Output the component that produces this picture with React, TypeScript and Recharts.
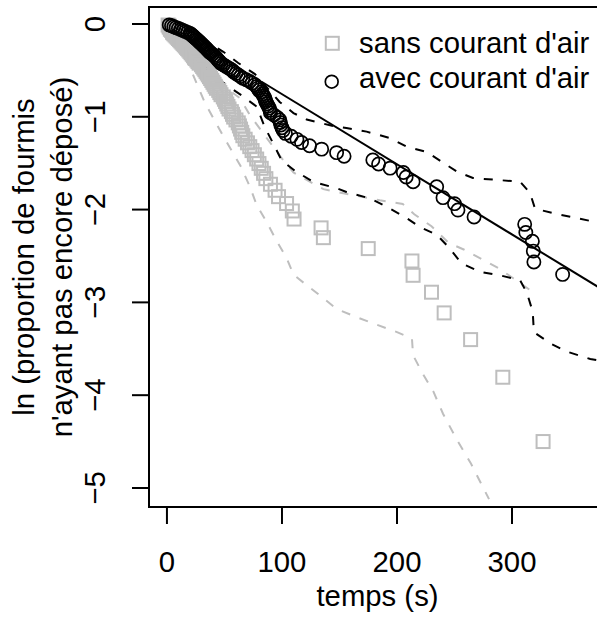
import React from 'react';
import { ComposedChart, Scatter, Line, XAxis, YAxis, ReferenceArea } from 'recharts';

const FONT = '"Liberation Sans", Arial, Helvetica, sans-serif';
const FS = 29.3;
const GREY = '#bebebe';

// x-axis ticks / y-axis ticks
const xTicks = [0, 100, 200, 300];
const yTicks = [-5, -4, -3, -2, -1, 0];

// "sans courant d'air" : time (s) and ln(proportion not yet deposited)
const sansT = [
  1, 2, 2, 3, 3, 4, 5, 5, 6, 7,
  8, 9, 10, 11, 12, 13, 14, 15, 16, 17,
  18, 19, 20, 21, 22, 23, 24, 25, 26, 27,
  28, 30, 31, 32, 33, 34, 35, 36, 37, 38,
  39, 40, 41, 42, 43, 45, 46, 47, 49, 50,
  51, 52, 53, 54, 56, 57, 58, 60, 62, 63,
  64, 65, 66, 68, 70, 72, 74, 76, 78, 80,
  82, 84, 86, 90, 94, 97, 104, 109, 110.5, 134,
  136, 175, 213, 214, 230, 241, 264, 292, 327,
];
const sansLn = [
  -0.0112, -0.0225, -0.0339, -0.0455, -0.0572, -0.069, -0.081, -0.0931, -0.1054, -0.1178,
  -0.1304, -0.1431, -0.156, -0.1691, -0.1823, -0.1957, -0.2094, -0.2231, -0.2371, -0.2513,
  -0.2657, -0.2803, -0.2951, -0.3102, -0.3254, -0.3409, -0.3567, -0.3727, -0.3889, -0.4055,
  -0.4223, -0.4394, -0.4568, -0.4745, -0.4925, -0.5108, -0.5295, -0.5486, -0.568, -0.5878,
  -0.608, -0.6286, -0.6497, -0.6712, -0.6931, -0.7156, -0.7386, -0.7621, -0.7862, -0.8109,
  -0.8362, -0.8622, -0.8889, -0.9163, -0.9445, -0.9734, -1.0033, -1.0341, -1.0658, -1.0986,
  -1.1325, -1.1676, -1.204, -1.2417, -1.2809, -1.3218, -1.3643, -1.4088, -1.4553, -1.5041,
  -1.5554, -1.6094, -1.6666, -1.7272, -1.7918, -1.8608, -1.9349, -2.0149, -2.1019, -2.1972,
  -2.3026, -2.4204, -2.5539, -2.7081, -2.8904, -3.1135, -3.4012, -3.8067, -4.4998,
];

// "avec courant d'air"
const avecT = [
  2, 4, 6, 8, 10, 12, 14, 16, 18, 20,
  21, 22, 23, 24, 25, 26, 27, 28, 29, 30,
  31, 32, 33, 34, 35, 36, 37, 38, 39.5, 41,
  42, 43, 44, 45, 46, 47, 49, 51, 53, 55,
  57, 58, 60, 62, 64, 66, 69, 72, 74, 76.5,
  78, 79, 80, 82, 83, 84, 85, 85.5, 86, 87,
  88, 89, 89.6, 90, 93, 96, 98, 98.5, 99, 100,
  101, 103, 108, 113, 117, 124, 134.5, 147.5, 154, 179,
  184, 194, 205.5, 208, 214, 234.5, 240, 250, 253, 267,
  311, 312, 317.7, 318.5, 319, 344,
];
const avecLn = [
  -0.0097, -0.0194, -0.0293, -0.0392, -0.0493, -0.0594, -0.0697, -0.08, -0.0905, -0.1011,
  -0.1118, -0.1226, -0.1335, -0.1446, -0.1558, -0.1671, -0.1785, -0.19, -0.2017, -0.2136,
  -0.2256, -0.2377, -0.2499, -0.2624, -0.2749, -0.2877, -0.3006, -0.3137, -0.3269, -0.3403,
  -0.3539, -0.3677, -0.3817, -0.3959, -0.4103, -0.4249, -0.4397, -0.4547, -0.47, -0.4855,
  -0.5013, -0.5173, -0.5335, -0.5501, -0.5669, -0.584, -0.6013, -0.619, -0.6371, -0.6554,
  -0.6741, -0.6931, -0.7126, -0.7324, -0.7526, -0.7732, -0.7942, -0.8158, -0.8377, -0.8602,
  -0.8832, -0.9067, -0.9308, -0.9555, -0.9808, -1.0068, -1.0335, -1.0609, -1.089, -1.118,
  -1.1479, -1.1787, -1.2104, -1.2432, -1.2771, -1.3122, -1.3486, -1.3863, -1.4255, -1.4663,
  -1.5088, -1.5533, -1.5998, -1.6486, -1.6999, -1.7539, -1.8717, -1.9362, -2.0052, -2.0793,
  -2.1594, -2.2464, -2.3418, -2.4472, -2.5649, -2.6985,
];

// fitted line (avec)
const fitT = [82, 382];
const fitLn = [-0.62, -2.888];

// envelopes (avec, black dashed)
const avecUpT = [0, 20, 35, 49, 62, 76.5, 88, 98, 110, 121.5, 144.5, 156, 173.6, 194, 208, 226, 237, 252, 266, 307, 315.6, 320, 336, 371, 382];
const avecUpLn = [0, -0.07, -0.19, -0.3, -0.42, -0.54, -0.7, -0.84, -0.96, -1.03, -1.1, -1.12, -1.16, -1.23, -1.32, -1.38, -1.47, -1.59, -1.66, -1.7, -1.82, -1.99, -2.04, -2.13, -2.15];
const avecLoT = [0, 15, 30, 40, 52, 65, 78, 85, 92.5, 99.7, 111, 127, 147.5, 156, 176.5, 191, 207, 220, 234.5, 246, 256, 272, 290, 307, 313, 318, 319, 333, 347.5, 368, 382];
const avecLoLn = [0, -0.15, -0.42, -0.55, -0.66, -0.77, -0.89, -1.11, -1.29, -1.47, -1.58, -1.7, -1.77, -1.81, -1.88, -1.97, -2.08, -2.19, -2.27, -2.42, -2.58, -2.67, -2.71, -2.76, -2.9, -3.1, -3.32, -3.44, -3.53, -3.61, -3.64];

// envelopes (sans, grey dashed)
const sansUpT = [0, 10, 20, 37, 46, 63.5, 72, 85, 100, 110, 136, 160, 185, 205, 215, 230, 245, 258, 270, 288, 301, 316, 322];
const sansUpLn = [0, -0.12, -0.25, -0.52, -0.64, -0.8, -0.98, -1.2, -1.45, -1.6, -1.78, -1.84, -1.9, -1.94, -2.05, -2.18, -2.36, -2.43, -2.51, -2.63, -2.74, -2.87, -2.92];
const sansLoT = [0, 10, 20, 33, 49, 64, 72, 78, 87, 95, 104, 110, 121, 134.5, 147.5, 163, 180, 200, 213, 214, 222, 231.6, 240, 252, 264, 280];
const sansLoLn = [0, -0.22, -0.47, -0.85, -1.21, -1.53, -1.75, -1.95, -2.14, -2.33, -2.52, -2.7, -2.81, -2.94, -3.07, -3.15, -3.23, -3.32, -3.39, -3.57, -3.76, -3.96, -4.2, -4.48, -4.73, -5.12];

const zip = (xs: number[], ys: number[]) => xs.map((x, i) => ({ x, y: ys[i] }));

const X_DOMAIN: [number, number] = [-15.6, 381.7];
const Y_DOMAIN: [number, number] = [-5.205, 0.183];

const SquareShape = (props: any) => {
  const { cx, cy } = props;
  if (cx == null || cy == null) return null;
  return <rect x={cx - 6.5} y={cy - 6.5} width={13} height={13} fill="none" stroke={GREY} strokeWidth={2} />;
};
const CircleShape = (props: any) => {
  const { cx, cy } = props;
  if (cx == null || cy == null) return null;
  return <circle cx={cx} cy={cy} r={6.6} fill="none" stroke="#000" strokeWidth={1.7} />;
};

const fmt = (v: number) => (v < 0 ? '\u2212' + Math.abs(v) : String(v));

const YTick = (props: any) => {
  const { y, payload } = props;
  const bx = 105;
  return (
    <text x={bx} y={y} transform={`rotate(-90, ${bx}, ${y})`} textAnchor="middle" fontSize={FS} fontFamily={FONT} fill="#000">
      {fmt(payload.value)}
    </text>
  );
};

const YTitle = () => {
  const cy = 257;
  return (
    <g>
      <text x={34} y={cy} transform={`rotate(-90, 34, ${cy})`} textAnchor="middle" fontSize={FS} fontFamily={FONT} fill="#000">
        ln (proportion de fourmis
      </text>
      <text x={72} y={cy} transform={`rotate(-90, 72, ${cy})`} textAnchor="middle" fontSize={FS} fontFamily={FONT} fill="#000">
        n'ayant pas encore déposé)
      </text>
    </g>
  );
};

export default function App() {
  return (
    <div style={{ position: 'absolute', left: 0, top: 0, width: 597, height: 617, overflow: 'hidden', background: '#fff' }}>
      <ComposedChart width={620} height={617} margin={{ top: 7, right: 14, bottom: 0, left: 0 }}>
        <XAxis
          type="number"
          dataKey="x"
          domain={X_DOMAIN}
          allowDataOverflow
          ticks={xTicks}
          tickSize={17}
          tickMargin={27}
          axisLine={false}
          tickLine={{ stroke: '#000', strokeWidth: 2 }}
          tick={{ fontSize: FS, fill: '#000', fontFamily: FONT }}
          height={110}
          label={{ value: 'temps (s)', position: 'insideBottom', offset: 11, fontSize: FS, fill: '#000', fontFamily: FONT }}
        />
        <YAxis
          type="number"
          dataKey="y"
          domain={Y_DOMAIN}
          allowDataOverflow
          ticks={yTicks}
          tickSize={17}
          axisLine={false}
          tickLine={{ stroke: '#000', strokeWidth: 2 }}
          tick={<YTick />}
          width={149}
          label={{ content: () => <YTitle /> }}
        />
        <ReferenceArea x1={X_DOMAIN[0]} x2={X_DOMAIN[1]} y1={Y_DOMAIN[0]} y2={Y_DOMAIN[1]} fill="none" fillOpacity={0} stroke="#000" strokeWidth={2} strokeOpacity={1} ifOverflow="visible" />
        <Scatter data={zip(sansT, sansLn)} shape={SquareShape} isAnimationActive={false} />
        <Line data={zip(sansUpT, sansUpLn)} dataKey="y" type="linear" stroke={GREY} strokeWidth={2} strokeDasharray="9 10" dot={false} activeDot={false} isAnimationActive={false} />
        <Line data={zip(sansLoT, sansLoLn)} dataKey="y" type="linear" stroke={GREY} strokeWidth={2} strokeDasharray="9 10" dot={false} activeDot={false} isAnimationActive={false} />
        <Scatter data={zip(avecT, avecLn)} shape={CircleShape} isAnimationActive={false} />
        <Line data={zip(avecUpT, avecUpLn)} dataKey="y" type="linear" stroke="#000" strokeWidth={2} strokeDasharray="9 10" dot={false} activeDot={false} isAnimationActive={false} />
        <Line data={zip(avecLoT, avecLoLn)} dataKey="y" type="linear" stroke="#000" strokeWidth={2} strokeDasharray="9 10" dot={false} activeDot={false} isAnimationActive={false} />
        <Line data={zip(fitT, fitLn)} dataKey="y" type="linear" stroke="#000" strokeWidth={2} dot={false} activeDot={false} isAnimationActive={false} />
      </ComposedChart>
      <svg width={597} height={617} style={{ position: 'absolute', left: 0, top: 0, pointerEvents: 'none' }}>
        <rect x={325.8} y={36.8} width={13} height={13} fill="none" stroke={GREY} strokeWidth={2} />
        <text x={359} y={53} fontSize={FS} fontFamily={FONT} fill="#000">sans courant d'air</text>
        <circle cx={331.7} cy={81.7} r={6.4} fill="none" stroke="#000" strokeWidth={1.7} />
        <text x={359} y={88} fontSize={FS} fontFamily={FONT} fill="#000">avec courant d'air</text>
      </svg>
    </div>
  );
}
